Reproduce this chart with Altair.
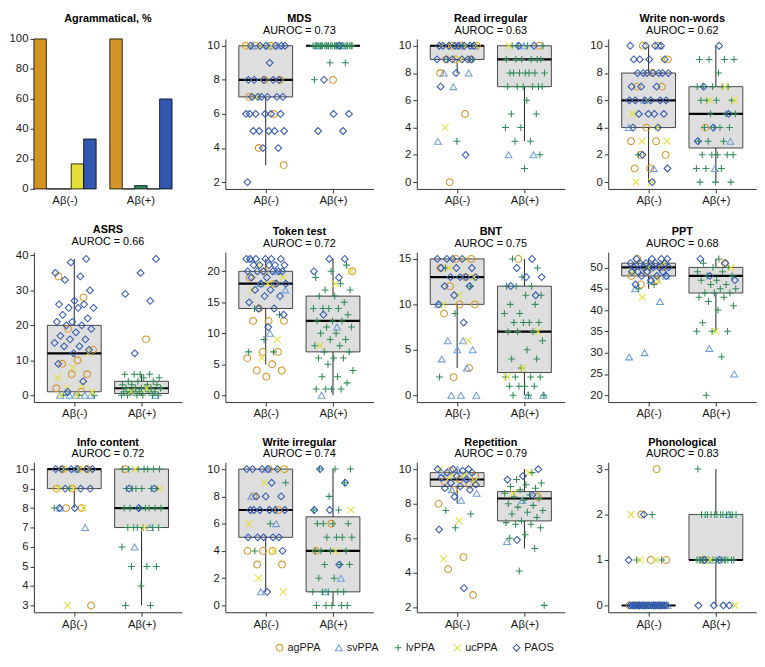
import altair as alt
import pandas as pd

# ---------------- data ----------------
GROUPS = ["agPPA", "svPPA", "lvPPA", "ucPPA", "PAOS"]
CATS = ["Aβ(-)", "Aβ(+)"]
PALETTE = ["#D39427", "#6E9EDD", "#2E8B57", "#E4DE3A", "#3158B0"]
SHAPES = ["circle", "triangle-up", "M-1,0L1,0M0,-1L0,1", "M-1,-1L1,1M-1,1L1,-1", "diamond"]

# Agrammatical, % (bar panel), in GROUPS order
agr_neg = [100, 0, 0, 16.7, 33.3]
agr_pos = [100, 0, 2.2, 0, 60]

# MDS
mds_neg = {"agPPA": [10, 10, 10, 8, 8, 7, 6, 4, 3], "svPPA": [10, 10, 10], "lvPPA": [],
           "ucPPA": [10, 10, 10, 7],
           "PAOS": [10, 10, 10, 10, 10, 10, 9, 8, 8, 8, 8, 8, 7, 7, 7, 7, 7, 7, 6, 6, 6, 6, 6, 6, 5, 5, 5, 5, 5, 4, 4, 2]}
mds_pos = {"agPPA": [8], "svPPA": [10, 10],
           "lvPPA": [10, 10, 10, 10, 10, 10, 10, 10, 10, 10, 10, 10, 10, 10, 10, 10, 10, 10, 10, 10, 10, 10, 10, 10, 10, 9, 9, 8],
           "ucPPA": [], "PAOS": [10, 8, 6, 6, 5, 5]}
mds_box = [[7, 8, 10, 3, 10], [10, 10, 10, 10, 10]]

# Read irregular
ri_neg = {"agPPA": [10, 10, 10, 9, 9, 9, 8, 5, 0], "svPPA": [10, 10, 8, 8, 7, 3], "lvPPA": [10, 9, 9, 3],
          "ucPPA": [10, 10, 10, 10, 9, 4],
          "PAOS": [10, 10, 10, 10, 10, 10, 10, 10, 9, 9, 9, 9, 9, 9, 8, 7, 2]}
ri_pos = {"agPPA": [10], "svPPA": [10, 2, 2],
          "lvPPA": [10, 10, 10, 10, 9, 9, 9, 9, 9, 9, 8, 8, 8, 8, 8, 8, 8, 7, 7, 7, 7, 7, 7, 6, 5, 5, 4, 4, 3, 3, 2, 1],
          "ucPPA": [10], "PAOS": [10, 10]}
ri_box = [[9, 10, 10, 8, 10], [7, 9, 10, 3, 10]]

# Write non-words
wn_neg = {"agPPA": [10, 10, 9, 8, 7, 7, 4, 3, 3, 2, 2, 1, 1], "svPPA": [10, 6, 4, 1], "lvPPA": [2],
          "ucPPA": [9, 6, 5, 4, 3, 3, 0, 0],
          "PAOS": [10, 10, 10, 10, 9, 9, 9, 9, 8, 8, 8, 8, 8, 8, 8, 7, 7, 7, 6, 6, 6, 6, 6, 6, 5, 5, 5, 5, 4, 4, 2, 1, 0]}
wn_pos = {"agPPA": [4], "svPPA": [3, 1],
          "lvPPA": [9, 9, 9, 9, 8, 7, 7, 7, 7, 7, 6, 6, 6, 6, 5, 5, 5, 4, 4, 4, 4, 3, 3, 3, 2, 2, 2, 2, 2, 1, 1, 1, 0, 0, 0],
          "ucPPA": [7, 6, 6], "PAOS": [10, 7, 5, 4, 3]}
wn_box = [[4, 6, 8, 0, 10], [2.5, 5, 7, 0, 10]]

# ASRS
asrs_neg = {"agPPA": [34, 28, 19, 13, 10, 9, 6, 6, 2, 1], "svPPA": [1, 0, 0, 0, 0, 0], "lvPPA": [0, 0, 0],
            "ucPPA": [12, 8, 5, 3, 2, 1, 0, 0],
            "PAOS": [39, 38, 35, 34, 33, 30, 27, 26, 26, 25, 25, 25, 23, 22, 21, 21, 20, 20, 19, 18, 17, 16, 16, 15, 14, 14, 13, 12, 9, 4, 1]}
asrs_pos = {"agPPA": [16], "svPPA": [1, 0],
            "lvPPA": [6, 6, 6, 6, 5, 5, 4, 4, 4, 3, 3, 3, 3, 2, 2, 2, 2, 2, 2, 1, 1, 1, 1, 1, 1, 0, 0, 0, 0, 0, 0],
            "ucPPA": [2, 1], "PAOS": [39, 35, 29, 27, 12]}
asrs_box = [[1, 12, 20, 0, 39], [0.5, 2, 4, 0, 6]]

# Token test
tt_neg = {"agPPA": [20, 19, 18, 14, 12, 12, 12, 7, 7, 6, 5, 4, 4, 3], "svPPA": [22, 20, 18, 17, 10],
          "lvPPA": [14, 13, 9, 7, 7], "ucPPA": [21, 19, 18, 17, 9, 6],
          "PAOS": [22, 22, 22, 22, 22, 22, 21, 21, 21, 21, 21, 20, 20, 20, 20, 20, 20, 19, 19, 18, 18, 18, 17, 17, 16, 16, 15, 14, 14, 13, 11]}
tt_pos = {"agPPA": [20], "svPPA": [11, 0],
          "lvPPA": [21, 20, 19, 18, 17, 17, 16, 16, 15, 14, 14, 14, 14, 13, 12, 12, 12, 11, 11, 10, 10, 9, 9, 8, 8, 7, 7, 6, 6, 6, 5, 4, 3, 3, 2, 1, 1, 1, 1],
          "ucPPA": [20, 18, 8], "PAOS": [22, 22, 20, 19, 13]}
tt_box = [[14, 18, 20, 5, 22], [7, 12, 16, 0, 22]]

# BNT
bnt_neg = {"agPPA": [15, 15, 14, 13, 12, 10, 10, 9, 3, 2], "svPPA": [10, 6, 6, 5, 5, 4, 3, 0, 0, 0],
           "lvPPA": [14, 12, 9, 2], "ucPPA": [15, 14, 13, 11, 10, 6],
           "PAOS": [15, 15, 15, 15, 14, 14, 14, 13, 13, 13, 13, 12, 12, 11, 10, 8]}
bnt_pos = {"agPPA": [15], "svPPA": [0, 0],
           "lvPPA": [15, 14, 13, 12, 12, 12, 11, 11, 10, 10, 9, 9, 8, 8, 8, 8, 7, 7, 7, 6, 5, 4, 4, 3, 2, 2, 2, 2, 1, 1, 1, 1, 0, 0, 0],
           "ucPPA": [7, 3, 2], "PAOS": [15, 14, 13, 13, 12, 11]}
bnt_box = [[10, 13, 15, 3, 15], [2.5, 7, 12, 0, 15]]

# PPT
ppt_neg = {"agPPA": [52, 50, 49, 48, 47, 46], "svPPA": [48, 47, 45, 42, 30, 29], "lvPPA": [46, 45],
           "ucPPA": [51, 50, 49, 47, 43],
           "PAOS": [52, 52, 52, 52, 51, 51, 51, 51, 51, 50, 50, 50, 50, 50, 50, 49, 49, 49, 49, 48, 48, 48, 47, 46]}
ppt_pos = {"agPPA": [51], "svPPA": [31, 25],
           "lvPPA": [52, 51, 50, 50, 49, 49, 48, 48, 47, 47, 46, 46, 45, 45, 44, 44, 44, 43, 43, 42, 41, 40, 37, 35, 35, 35, 29, 20],
           "ucPPA": [50, 35], "PAOS": [52, 51, 48, 47]}
ppt_box = [[48, 50, 51, 45, 52], [44, 48, 50, 35, 52]]

# Info content
ic_neg = {"agPPA": [10, 10, 10, 9, 9, 8, 8, 3], "svPPA": [10, 8, 7], "lvPPA": [9, 8],
          "ucPPA": [10, 10, 10, 9, 9, 8, 3], "PAOS": [10, 10, 10, 10, 10, 10, 9, 9, 9, 8, 8]}
ic_pos = {"agPPA": [10], "svPPA": [7, 6],
          "lvPPA": [10, 10, 10, 10, 10, 10, 10, 9, 9, 9, 9, 9, 9, 8, 8, 8, 8, 8, 8, 8, 7, 7, 7, 7, 7, 7, 6, 5, 5, 5, 4, 3, 3],
          "ucPPA": [10, 9, 7], "PAOS": [9, 9, 8]}
ic_box = [[9, 10, 10, 8, 10], [7, 8, 10, 3, 10]]

# Write irregular
wi_neg = {"agPPA": [10, 10, 8, 7, 4, 4, 4, 3, 3], "svPPA": [10, 8, 6, 1], "lvPPA": [9, 6, 4],
          "ucPPA": [10, 9, 6, 4, 2, 1],
          "PAOS": [10, 10, 10, 10, 10, 9, 8, 8, 8, 7, 7, 7, 7, 7, 7, 5, 5, 5, 5, 5, 4, 1]}
wi_pos = {"agPPA": [6, 4], "svPPA": [2, 1],
          "lvPPA": [10, 10, 10, 9, 8, 7, 7, 6, 6, 6, 6, 5, 5, 5, 5, 4, 4, 4, 4, 3, 3, 3, 2, 2, 1, 1, 1, 1, 1, 0, 0, 0, 0, 0],
          "ucPPA": [7, 4], "PAOS": [10, 9, 7, 7, 3]}
wi_box = [[5, 7, 10, 1, 10], [1, 4, 6.5, 0, 10]]

# Repetition
rep_neg = {"agPPA": [9.9, 9.6, 9.4, 9.3, 9.1, 8.8, 8.0, 4.9, 4.2, 2.7], "svPPA": [10.0, 9.8, 9.5, 8.8, 8.6, 8.2],
           "lvPPA": [7.6, 7.4, 6.6], "ucPPA": [10.0, 9.7, 9.5, 9.3, 7.0, 4.8],
           "PAOS": [10.0, 10.0, 10.0, 9.9, 9.8, 9.8, 9.6, 9.5, 9.4, 9.2, 9.1, 9.0, 8.9, 8.8, 8.4, 6.5, 3.1]}
rep_pos = {"agPPA": [8.4], "svPPA": [8.2, 5.8],
           "lvPPA": [9.8, 9.4, 9.2, 9.1, 9.0, 8.9, 8.8, 8.6, 8.5, 8.4, 8.3, 8.2, 8.0, 7.9, 7.8, 7.6, 7.5, 7.4, 7.2, 7.0, 6.9, 6.8, 6.8, 6.6, 6.2, 6.0, 5.4, 4.1, 2.1],
           "ucPPA": [9.8, 8.6], "PAOS": [10.0, 9.6, 9.4, 8.5, 5.9]}
rep_box = [[9.0, 9.4, 9.8, 8.0, 10.0], [7.0, 8.3, 8.7, 5.4, 10.0]]

# Phonological
ph_neg = {"agPPA": [3, 2, 1, 1, 0, 0, 0, 0, 0, 0], "svPPA": [0, 0, 0, 0, 0, 0], "lvPPA": [2, 1, 1, 0],
          "ucPPA": [2, 1, 1, 0, 0, 0, 0],
          "PAOS": [2, 1, 0, 0, 0, 0, 0, 0, 0, 0, 0, 0, 0, 0, 0, 0, 0, 0, 0, 0, 0, 0]}
ph_pos = {"agPPA": [1], "svPPA": [2, 1],
          "lvPPA": [3, 2, 2, 2, 2, 2, 2, 2, 2, 2, 2, 2, 2, 1, 1, 1, 1, 1, 1, 1, 1, 1, 1, 1, 1, 1, 1, 1],
          "ucPPA": [1, 0], "PAOS": [1, 1, 0, 0, 0, 0]}
ph_box = [[0, 0, 0, 0, 0], [1, 1, 2, 0, 3]]

PANELS = [
    ("MDS", "0.73", mds_neg, mds_pos, mds_box, [1.6, 10.4], [2, 4, 6, 8, 10]),
    ("Read irregular", "0.63", ri_neg, ri_pos, ri_box, [-0.5, 10.5], [0, 2, 4, 6, 8, 10]),
    ("Write non-words", "0.62", wn_neg, wn_pos, wn_box, [-0.5, 10.5], [0, 2, 4, 6, 8, 10]),
    ("ASRS", "0.66", asrs_neg, asrs_pos, asrs_box, [-1.95, 40.95], [0, 10, 20, 30, 40]),
    ("Token test", "0.72", tt_neg, tt_pos, tt_box, [-1.1, 23.1], [0, 5, 10, 15, 20]),
    ("BNT", "0.75", bnt_neg, bnt_pos, bnt_box, [-0.75, 15.75], [0, 5, 10, 15]),
    ("PPT", "0.68", ppt_neg, ppt_pos, ppt_box, [18.4, 53.6], [20, 25, 30, 35, 40, 45, 50]),
    ("Info content", "0.72", ic_neg, ic_pos, ic_box, [2.65, 10.35], [3, 4, 5, 6, 7, 8, 9, 10]),
    ("Write irregular", "0.74", wi_neg, wi_pos, wi_box, [-0.5, 10.5], [0, 2, 4, 6, 8, 10]),
    ("Repetition", "0.79", rep_neg, rep_pos, rep_box, [1.7, 10.4], [2, 4, 6, 8, 10]),
    ("Phonological", "0.83", ph_neg, ph_pos, ph_box, [-0.15, 3.15], [0, 1, 2, 3]),
]

# ---------------- styling ----------------
W, H = 150, 152
YEXT, XEXT = 24, 19
FONT = "Liberation Sans"
LABEL_SIZE = 11.5

color_scale = alt.Scale(domain=GROUPS, range=PALETTE)
shape_scale = alt.Scale(domain=GROUPS, range=SHAPES)
label_expr = f"datum.value == 1 ? '{CATS[0]}' : '{CATS[1]}'"


def title_params(text, subtitle, dy=0):
    kw = dict(text=text, subtitle=subtitle, font=FONT, fontSize=11, fontWeight="bold",
              color="black", subtitleFont=FONT, subtitleFontSize=11, subtitleColor="black",
              subtitleFontWeight="normal", anchor="middle", offset=3, subtitlePadding=1)
    if dy:
        kw["dy"] = dy
    return alt.TitleParams(**kw)


def box_panel(idx, name, auc, neg, pos, box, ydom, yticks):
    xscale = alt.Scale(domain=[0.4, 2.6], nice=False, zero=False)
    yscale = alt.Scale(domain=ydom, nice=False, zero=False)
    xaxis = alt.Axis(values=[1, 2], labelExpr=label_expr, grid=False, tickSize=4,
                     labelPadding=2, minExtent=XEXT, maxExtent=XEXT)
    yaxis = alt.Axis(values=yticks, grid=False, tickSize=4, labelPadding=2,
                     minExtent=YEXT, maxExtent=YEXT)

    def X(f):
        return alt.X(f, scale=xscale, axis=xaxis, title=None)

    def Y(f):
        return alt.Y(f, scale=yscale, axis=yaxis, title=None)

    rows = []
    for ci, d in enumerate([neg, pos]):
        i = 0
        for g in GROUPS:
            for v in d[g]:
                j = ((i * 0.6180339887 + 0.37 * idx + 0.5 * ci) % 1.0 - 0.5) * 0.6
                rows.append({"cat": ci + 1, "Group": g, "value": v, "jit": j})
                i += 1
    pts = pd.DataFrame(rows)
    bdf = pd.DataFrame({"cat": [1, 2],
                        "q1": [box[0][0], box[1][0]], "med": [box[0][1], box[1][1]],
                        "q3": [box[0][2], box[1][2]], "lo": [box[0][3], box[1][3]],
                        "hi": [box[0][4], box[1][4]]})
    base = alt.Chart(bdf).transform_calculate(xl="datum.cat - 0.4", xr="datum.cat + 0.4")
    rect = base.mark_rect(fill="#DEDEDE", stroke="#333333", strokeWidth=0.9).encode(
        x=X("xl:Q"), x2="xr:Q", y=Y("q1:Q"), y2="q3:Q")
    wl = base.mark_rule(color="#222222", strokeWidth=1).encode(x=X("cat:Q"), y=Y("lo:Q"), y2="q1:Q")
    wh = base.mark_rule(color="#222222", strokeWidth=1).encode(x=X("cat:Q"), y=Y("q3:Q"), y2="hi:Q")
    med = base.mark_rule(color="black", strokeWidth=2.2).encode(x=X("xl:Q"), x2="xr:Q", y=Y("med:Q"))
    points = alt.Chart(pts).transform_calculate(xp="datum.cat + datum.jit").mark_point(
        filled=False, strokeWidth=1.05, opacity=1, size=48).encode(
        x=X("xp:Q"), y=Y("value:Q"),
        color=alt.Color("Group:N", scale=color_scale, legend=None),
        shape=alt.Shape("Group:N", scale=shape_scale, legend=None),
    )
    return alt.layer(rect, wl, wh, med, points).properties(
        width=W, height=H, title=title_params(name, "AUROC = " + auc))


# bar panel
bar_rows = []
for ci, vals in enumerate([agr_neg, agr_pos]):
    for g, v in zip(GROUPS, vals):
        bar_rows.append({"cat": CATS[ci], "Group": g, "value": v})
bar_df = pd.DataFrame(bar_rows)
bar = alt.Chart(bar_df).mark_bar(stroke="black", strokeWidth=0.8).encode(
    x=alt.X("cat:N", scale=alt.Scale(domain=CATS, paddingInner=0.18, paddingOuter=0.065, align=0),
            axis=alt.Axis(labelAngle=0, domain=False, ticks=False, labelPadding=6,
                          minExtent=XEXT, maxExtent=XEXT), title=None),
    xOffset=alt.XOffset("Group:N", scale=alt.Scale(domain=GROUPS, paddingInner=0, paddingOuter=0)),
    y=alt.Y("value:Q", scale=alt.Scale(domain=[0, 100], nice=False),
            axis=alt.Axis(values=[0, 20, 40, 60, 80, 100], domain=False, grid=False, tickSize=4,
                          labelPadding=2, minExtent=YEXT, maxExtent=YEXT), title=None),
    fill=alt.Fill("Group:N", scale=color_scale, legend=None),
).properties(width=W, height=H, title=title_params("Agrammatical, %", " ", dy=6))

panels = [bar] + [box_panel(i, *p) for i, p in enumerate(PANELS)]
grid = alt.concat(*panels, columns=4, spacing={"row": 14, "column": 18})

# key strip for the point groups, drawn with the same colour/shape scales
KEY_STEP = 60
key_df = pd.DataFrame({"Group": GROUPS})
key_x = alt.Scale(type="band", domain=GROUPS, paddingInner=0, paddingOuter=0.5, align=1)
key_pts = alt.Chart(key_df).mark_point(filled=False, strokeWidth=1.05, size=48, opacity=1).encode(
    x=alt.X("Group:N", scale=key_x, axis=None, bandPosition=0.05),
    color=alt.Color("Group:N", scale=color_scale, legend=None),
    shape=alt.Shape("Group:N", scale=shape_scale, legend=None),
)
key_txt = alt.Chart(key_df).mark_text(align="left", baseline="middle", dx=8, font=FONT,
                                      fontSize=11, color="#1a1a1a").encode(
    x=alt.X("Group:N", scale=key_x, axis=None, bandPosition=0.05),
    text="Group:N",
)
key = alt.layer(key_pts, key_txt).properties(width=KEY_STEP * (len(GROUPS) + 1), height=14)

chart = alt.vconcat(grid, key, spacing=8, center=True).properties(
    padding=0
).configure_view(
    stroke="transparent"
).configure_axis(
    labelFont=FONT, labelFontSize=LABEL_SIZE, labelColor="#1a1a1a",
    domainColor="#333333", tickColor="#333333", domainWidth=1, tickWidth=1
)

chart.save("out.html", embed_options={"renderer": "svg", "actions": False})
